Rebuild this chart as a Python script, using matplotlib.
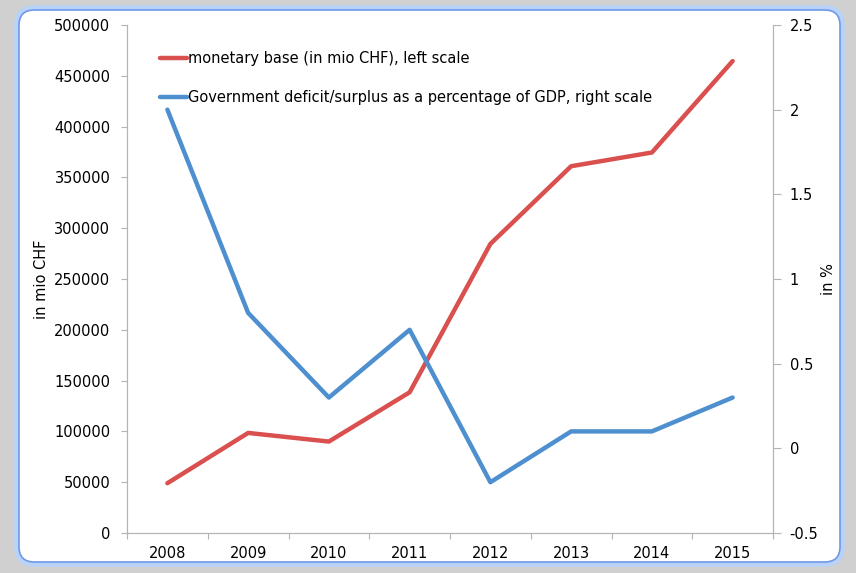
import matplotlib
matplotlib.use('Agg')
import matplotlib.pyplot as plt
from matplotlib.patches import FancyBboxPatch, Rectangle
from matplotlib.ticker import FixedLocator, FuncFormatter, NullFormatter

years = ['2008', '2009', '2010', '2011', '2012', '2013', '2014', '2015']
monetary_base = [49000, 98500, 90000, 138500, 284500, 361000, 374500, 464500]
deficit_pct = [2.0, 0.8, 0.3, 0.7, -0.2, 0.1, 0.1, 0.3]

red = '#d9504e'
blue = '#4e8fcf'
axis_grey = '#b4b4b4'

plt.rcParams['font.family'] = 'DejaVu Sans'
plt.rcParams['font.size'] = 10.5

W, H = 856, 573
fig = plt.figure(figsize=(W / 100, H / 100), dpi=100)
fig.patch.set_facecolor('#d0d0d0')

# window frame (Excel chart look)
fig.patches.append(Rectangle((0, 0), 1, 1, transform=fig.transFigure,
                             facecolor='#d0d0d0', edgecolor='none', zorder=-3))
fig.patches.append(FancyBboxPatch((17 / W, (H - 564) / H), (842 - 17) / W, (564 - 8) / H,
                                  boxstyle='round,pad=0,rounding_size=0.02',
                                  transform=fig.transFigure, facecolor='none',
                                  edgecolor='#b9d2f7', linewidth=4, zorder=-2,
                                  mutation_aspect=W / H))
fig.patches.append(FancyBboxPatch((19 / W, (H - 562) / H), (840 - 19) / W, (562 - 10) / H,
                                  boxstyle='round,pad=0,rounding_size=0.018',
                                  transform=fig.transFigure, facecolor='white',
                                  edgecolor='#6f98e8', linewidth=1.2, zorder=-1,
                                  mutation_aspect=W / H))

ax = fig.add_axes([127 / W, (H - 533) / H, (773 - 127) / W, (533 - 25) / H])
ax.set_facecolor('none')
ax2 = ax.twinx()

x = list(range(len(years)))
l1, = ax.plot(x, monetary_base, color=red, lw=3.2, solid_capstyle='round',
              label='monetary base (in mio CHF), left scale')
l2, = ax2.plot(x, deficit_pct, color=blue, lw=3.2, solid_capstyle='round',
               label='Government deficit/surplus as a percentage of GDP, right scale')

ax.set_xlim(-0.5, len(years) - 0.5)
ax.set_ylim(0, 500000)
ax2.set_ylim(-0.5, 2.5)

ax.set_yticks(range(0, 500001, 50000))
ax.yaxis.set_major_formatter(FuncFormatter(lambda v, p: '%d' % v))
ax2.set_yticks([-0.5, 0, 0.5, 1, 1.5, 2, 2.5])
ax2.yaxis.set_major_formatter(FuncFormatter(lambda v, p: ('%g' % v)))

ax.xaxis.set_major_locator(FixedLocator([i - 0.5 for i in range(len(years) + 1)]))
ax.xaxis.set_major_formatter(NullFormatter())
ax.xaxis.set_minor_locator(FixedLocator(x))
ax.set_xticklabels(years, minor=True)
ax.tick_params(axis='x', which='minor', length=0, pad=9)
ax.tick_params(axis='x', which='major', length=4, color=axis_grey)
ax.tick_params(axis='y', length=4, color=axis_grey, pad=8)
ax2.tick_params(axis='y', length=6, color=axis_grey, pad=6)

for a in (ax, ax2):
    for s in a.spines.values():
        s.set_color(axis_grey)
    a.spines['top'].set_visible(False)

ax.set_ylabel('in mio CHF')
ax.yaxis.set_label_coords(-0.12, 0.5)
ax2.set_ylabel('in %')
ax2.yaxis.set_label_coords(1.074, 0.5)

ax2.legend(handles=[l1, l2], loc='upper left', bbox_to_anchor=(0.051, 0.948),
           frameon=False, borderpad=0, borderaxespad=0, handlelength=1.85,
           handletextpad=0.1, labelspacing=1.6)

fig.savefig('out.png', dpi=100, facecolor=fig.get_facecolor())
